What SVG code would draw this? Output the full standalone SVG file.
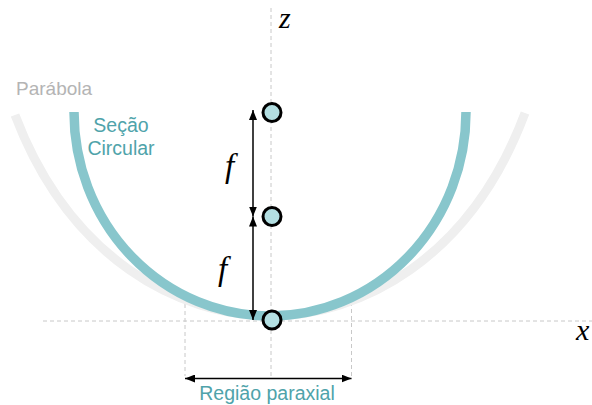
<svg xmlns="http://www.w3.org/2000/svg" width="592" height="405" viewBox="0 0 592 405">
  <style>
    .dash { stroke: #c8c8c8; stroke-width: 1; stroke-dasharray: 4 3; fill: none; }
    .arrow { stroke: #000; stroke-width: 1.5; fill: none; marker-start: url(#ah); marker-end: url(#ah); }
    .pt { fill: #b3dfe2; stroke: #000; stroke-width: 3; }
    .sans { font-family: "Liberation Sans", Arial, sans-serif; }
    .math { font-family: "Liberation Serif", "Times New Roman", serif; font-style: italic; fill: #000; }
    .teal { fill: #4fa3aa; }
  </style>
  <defs>
    <marker id="ah" markerUnits="userSpaceOnUse" markerWidth="10" markerHeight="8" refX="10" refY="4" orient="auto-start-reverse">
      <path d="M0,0 L10,4 L0,8 z" fill="#000"/>
    </marker>
  </defs>

  <g id="axes">
    <line class="dash" x1="271" y1="8" x2="271" y2="377"/>
    <line class="dash" x1="43" y1="321" x2="592" y2="321"/>
    <line class="dash" x1="185" y1="304" x2="185" y2="376"/>
    <line class="dash" x1="351.5" y1="302" x2="351.5" y2="376"/>
    <text class="math" x="279" y="28" font-size="30">z</text>
    <text class="math" x="576" y="340" font-size="30">x</text>
  </g>

  <g id="parabola">
    <path d="M 15 115 C 70 260, 180 316, 270 316 C 360 316, 470 260, 525 113" fill="none" stroke="#efefef" stroke-width="9"/>
    <text class="sans" x="16" y="95" font-size="19" fill="#b4b4b4">Parábola</text>
  </g>

  <g id="circular-section">
    <path d="M 74 112 A 196 204 0 0 0 466 112" fill="none" stroke="#88c6cc" stroke-width="9.5"/>
    <text class="sans teal" x="121" y="132" font-size="19.5" text-anchor="middle">Seção</text>
    <text class="sans teal" x="121" y="155" font-size="19.5" text-anchor="middle">Circular</text>
  </g>

  <g id="connectors">
    <line class="arrow" x1="253" y1="110" x2="253" y2="216.5"/>
    <line class="arrow" x1="253" y1="216.5" x2="253" y2="320"/>
    <line class="arrow" x1="185" y1="378.5" x2="351.5" y2="378.5"/>
  </g>

  <g id="focal-labels">
    <text class="math" x="225" y="177" font-size="33">f</text>
    <text class="math" x="218" y="280" font-size="33">f</text>
  </g>

  <g id="point-top"><circle class="pt" cx="272" cy="112.5" r="9"/></g>
  <g id="point-focus"><circle class="pt" cx="272" cy="216.5" r="9"/></g>
  <g id="point-vertex"><circle class="pt" cx="272" cy="320" r="9"/></g>

  <g id="paraxial-label">
    <text class="sans teal" x="267" y="400" font-size="19.5" text-anchor="middle">Região paraxial</text>
  </g>
</svg>
